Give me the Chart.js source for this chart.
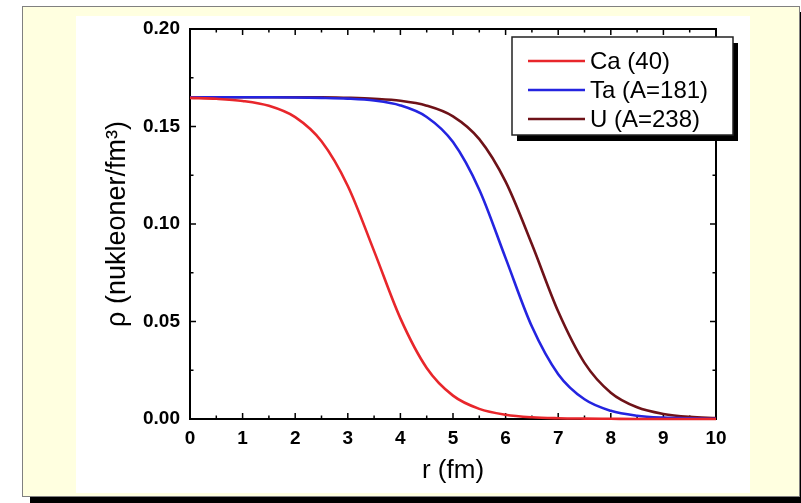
<!DOCTYPE html>
<html><head><meta charset="utf-8">
<script src="https://cdn.jsdelivr.net/npm/chart.js@4.4.0/dist/chart.umd.min.js"></script>
<style>
html,body{margin:0;padding:0;background:#fff;width:801px;height:503px;overflow:hidden}
#frame{position:absolute;left:22px;top:6px;width:776px;height:489px;background:#FFFFE0;border:1px solid #808080;box-shadow:8px 6px 0 #000}
#wrap{position:absolute;left:76px;top:16px;width:674px;height:477px;background:#fff}
</style></head><body>
<div id="frame"></div>
<div id="wrap"><canvas id="c" width="674" height="477"></canvas></div>
<script>
const rValues = [0,0.5,1,1.5,2,2.5,3,3.5,4,4.5,5,5.5,6,6.5,7,7.5,8,8.5,9,9.5,10];
const caValues = [0.1647,0.1642,0.1631,0.1606,0.1548,0.1424,0.1195,0.0861,0.0516,0.0262,0.0120,0.0052,0.0022,0.0009,0.0004,0.0002,0.0001,0,0,0,0];
const taValues = [0.165,0.165,0.165,0.165,0.1649,0.1647,0.1643,0.1633,0.1608,0.1549,0.1420,0.1176,0.0825,0.0474,0.0230,0.0101,0.0042,0.0017,0.0007,0.0003,0.0001];
const uValues  = [0.165,0.165,0.165,0.165,0.165,0.165,0.1647,0.1642,0.1632,0.1607,0.1552,0.1435,0.1217,0.0896,0.0551,0.0288,0.0135,0.0060,0.0026,0.0011,0.0005];
const seriesLabels = ['Ca (40)','Ta (A=181)','U (A=238)'];
const seriesColors = ['#E8262B','#2424E0','#6E1218'];
const xTicks = [0,1,2,3,4,5,6,7,8,9,10];
const yTicks = [0,0.05,0.10,0.15,0.20];
const xTitle = 'r (fm)';
const yTitle = 'ρ (nukleoner/fm³)';

const toPts = vals => rValues.map((r,i)=>({x:r,y:vals[i]}));

const frameTicks = {
  id:'frameTicks',
  beforeDatasetsDraw(chart){
    const {ctx, chartArea:a, scales:{x,y}} = chart;
    ctx.save();
    ctx.strokeStyle='#000';
    ctx.lineWidth=2;
    ctx.strokeRect(a.left, a.top, a.right-a.left, a.bottom-a.top);
    ctx.lineWidth=1.5;
    const xs=[];
    xTicks.forEach((v,i)=>{xs.push([v,6]); if(i<xTicks.length-1) xs.push([(v+xTicks[i+1])/2,3.5]);});
    xs.forEach(([v,l])=>{
      const px=x.getPixelForValue(v);
      ctx.beginPath();ctx.moveTo(px,a.bottom);ctx.lineTo(px,a.bottom-l);
      ctx.moveTo(px,a.top);ctx.lineTo(px,a.top+l);ctx.stroke();
    });
    const ys=[];
    yTicks.forEach((v,i)=>{ys.push([v,6]); if(i<yTicks.length-1) ys.push([(v+yTicks[i+1])/2,3.5]);});
    ys.forEach(([v,l])=>{
      const py=y.getPixelForValue(v);
      ctx.beginPath();ctx.moveTo(a.left,py);ctx.lineTo(a.left+l,py);
      ctx.moveTo(a.right,py);ctx.lineTo(a.right-l,py);ctx.stroke();
    });
    ctx.restore();
  },
  afterDatasetsDraw(chart){
    const {ctx, chartArea:a} = chart;
    const bx=a.right-204, by=a.top+8, bw=221, bh=98;
    ctx.save();
    ctx.fillStyle='#000';
    ctx.fillRect(bx+5,by+6,bw,bh);
    ctx.fillStyle='#fff';
    ctx.fillRect(bx,by,bw,bh);
    ctx.strokeStyle='#222';ctx.lineWidth=1.5;
    ctx.strokeRect(bx,by,bw,bh);
    ctx.font='24px "Liberation Sans", Arial, sans-serif';
    ctx.textBaseline='middle';
    chart.data.datasets.forEach((ds,i)=>{
      const cy=by+24+i*29;
      ctx.strokeStyle=ds.borderColor;ctx.lineWidth=2.5;
      ctx.beginPath();ctx.moveTo(bx+16,cy);ctx.lineTo(bx+73,cy);ctx.stroke();
      ctx.fillStyle='#000';
      ctx.fillText(ds.label,bx+78,cy+1);
    });
    ctx.restore();
  }
};

new Chart(document.getElementById('c'),{
  type:'line',
  data:{datasets:[
    {label:seriesLabels[0],data:toPts(caValues),borderColor:seriesColors[0]},
    {label:seriesLabels[1],data:toPts(taValues),borderColor:seriesColors[1]},
    {label:seriesLabels[2],data:toPts(uValues),borderColor:seriesColors[2]}
  ]},
  options:{
    responsive:false,animation:false,devicePixelRatio:1,
    layout:{padding:{top:13,right:34,left:0,bottom:0}},
    elements:{point:{radius:0},line:{borderWidth:2.6,cubicInterpolationMode:'monotone'}},
    datasets:{line:{clip:4}},
    plugins:{legend:{display:false},tooltip:{enabled:false}},
    scales:{
      x:{type:'linear',min:0,max:10,
        afterFit:s=>{s.height=74;s.paddingLeft=0;s.paddingRight=0;},
        afterBuildTicks:s=>{s.ticks=xTicks.map(v=>({value:v}));},
        grid:{display:false,drawTicks:false},border:{display:false},
        ticks:{padding:8,color:'#000',font:{family:'"Liberation Sans", Arial, sans-serif',size:19,weight:'bold'},maxRotation:0,autoSkip:false},
        title:{display:true,text:xTitle,color:'#000',padding:{top:0,bottom:7},font:{family:'"Liberation Sans", Arial, sans-serif',size:26}}
      },
      y:{type:'linear',min:0,max:0.2,
        afterFit:s=>{s.width=114;s.paddingTop=0;s.paddingBottom=0;},
        afterBuildTicks:s=>{s.ticks=yTicks.map(v=>({value:v}));},
        grid:{display:false,drawTicks:false},border:{display:false},
        ticks:{padding:10,color:'#000',callback:v=>Number(v).toFixed(2),font:{family:'"Liberation Sans", Arial, sans-serif',size:19,weight:'bold'},autoSkip:false},
        title:{display:true,text:yTitle,color:'#000',padding:{top:25,bottom:0},font:{family:'"Liberation Sans", Arial, sans-serif',size:27}}
      }
    }
  },
  plugins:[frameTicks]
});
</script>
</body></html>
